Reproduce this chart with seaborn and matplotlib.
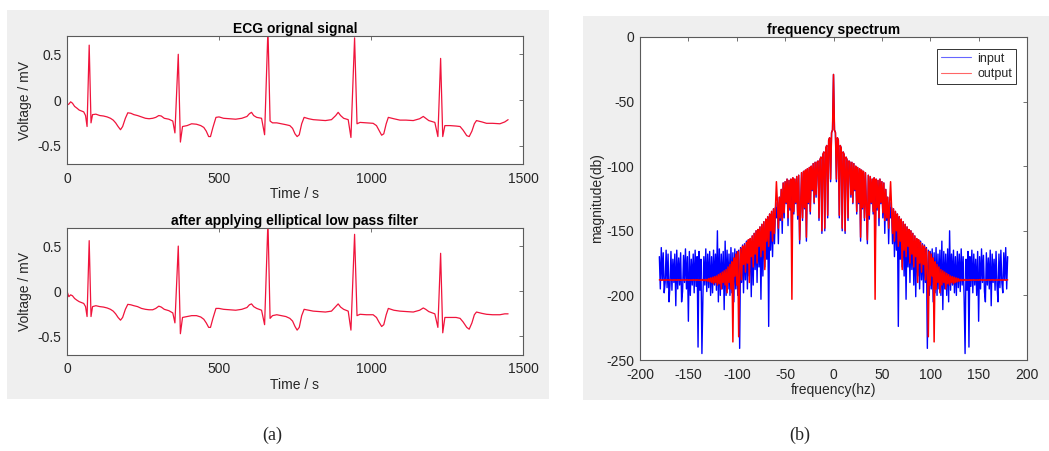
import numpy as np
import matplotlib
matplotlib.use("Agg")
import matplotlib.pyplot as plt
from matplotlib.patches import Rectangle
from matplotlib.lines import Line2D
import seaborn as sns

# ECG samples (time in s, voltage in mV), read beat by beat off the picture
tEcg = [0, 6, 12, 18, 25, 33, 40, 48, 55, 61, 66, 73, 79, 84,
        95, 108, 120, 132, 143, 152, 160, 168, 176, 183, 192, 200,
        210, 220, 232, 245, 258, 270, 282, 292, 302, 310, 320, 335, 348,
        355, 366, 373, 380, 395, 410, 426, 440, 450, 458, 466, 472, 480, 490,
        500, 515, 535, 555, 575, 592, 600, 607, 614, 624, 640,
        650, 661, 668, 676, 690, 705, 720, 733, 742, 750, 757, 764, 772, 780,
        795, 810, 830, 850, 870, 884, 892, 900, 910, 925,
        934, 946, 954, 964, 985, 1007, 1018, 1026, 1035, 1042, 1050, 1057,
        1075, 1095, 1115, 1139, 1160, 1172, 1180, 1190, 1210,
        1220, 1229, 1236, 1243, 1260, 1280, 1293, 1303, 1315, 1323, 1332, 1340, 1347,
        1365, 1380, 1400, 1424, 1440, 1451]

ecgOriginal = [-0.055, -0.045, -0.02, -0.035, -0.07, -0.09, -0.11, -0.12, -0.13, -0.17, -0.29, 0.60, -0.25, -0.16,
               -0.155, -0.17, -0.175, -0.185, -0.2, -0.22, -0.25, -0.29, -0.325, -0.29, -0.2, -0.14,
               -0.145, -0.16, -0.17, -0.185, -0.2, -0.205, -0.2, -0.19, -0.17, -0.175, -0.2, -0.21, -0.23,
               -0.36, 0.50, -0.46, -0.29, -0.28, -0.26, -0.265, -0.28, -0.30, -0.34, -0.40, -0.40, -0.30, -0.19,
               -0.185, -0.2, -0.205, -0.21, -0.2, -0.18, -0.15, -0.135, -0.17, -0.19, -0.2,
               -0.38, 0.78, -0.23, -0.25, -0.25, -0.26, -0.27, -0.28, -0.31, -0.37, -0.40, -0.38, -0.26, -0.19,
               -0.205, -0.215, -0.22, -0.225, -0.215, -0.17, -0.135, -0.17, -0.2, -0.215,
               -0.41, 0.68, -0.26, -0.245, -0.25, -0.255, -0.28, -0.33, -0.385, -0.37, -0.26, -0.19,
               -0.205, -0.22, -0.22, -0.225, -0.205, -0.18, -0.2, -0.225, -0.245,
               -0.40, 0.455, -0.40, -0.28, -0.28, -0.285, -0.29, -0.33, -0.39, -0.40, -0.34, -0.26, -0.225,
               -0.24, -0.255, -0.255, -0.26, -0.24, -0.215]

ecgFiltered = [0.0, -0.06, -0.04, -0.05, -0.08, -0.1, -0.115, -0.125, -0.135, -0.17, -0.28, 0.56, -0.28, -0.17,
               -0.16, -0.17, -0.175, -0.185, -0.2, -0.22, -0.25, -0.29, -0.32, -0.29, -0.2, -0.145,
               -0.15, -0.16, -0.17, -0.19, -0.2, -0.205, -0.205, -0.19, -0.165, -0.175, -0.2, -0.215, -0.24,
               -0.35, 0.50, -0.47, -0.29, -0.28, -0.27, -0.27, -0.285, -0.31, -0.35, -0.40, -0.40, -0.30, -0.19,
               -0.19, -0.2, -0.205, -0.21, -0.2, -0.18, -0.15, -0.14, -0.17, -0.19, -0.21,
               -0.37, 0.78, -0.30, -0.27, -0.26, -0.27, -0.28, -0.30, -0.33, -0.39, -0.43, -0.40, -0.27, -0.2,
               -0.21, -0.22, -0.225, -0.23, -0.22, -0.17, -0.14, -0.175, -0.2, -0.22,
               -0.43, 0.63, -0.27, -0.255, -0.26, -0.26, -0.29, -0.34, -0.39, -0.37, -0.26, -0.19,
               -0.21, -0.22, -0.225, -0.23, -0.21, -0.185, -0.2, -0.225, -0.25,
               -0.40, 0.42, -0.46, -0.29, -0.29, -0.29, -0.30, -0.34, -0.40, -0.42, -0.35, -0.26, -0.23,
               -0.245, -0.255, -0.26, -0.26, -0.25, -0.25]

# magnitude (db) for 0..180 hz, 1 hz apart; the spectrum is symmetric about 0
outputHalf = [-29, -72, -74, -110, -78, -80, -138, -84, -86, -148,
              -89, -91, -150, -93, -95, -140, -96, -97, -122, -97,
              -128, -98, -118, -100, -135, -101, -128, -102, -155, -103,
              -132, -104, -140, -105, -130, -157, -107, -138, -108, -128,
              -110, -135, -109, -203, -110, -132, -111, -140, -110, -128,
              -112, -136, -113, -142, -118, -140, -124, -148, -128, -112,
              -132, -152, -133, -158, -135, -150, -137, -162, -139, -158,
              -141, -180, -143, -165, -145, -170, -147, -162, -149, -175,
              -150, -168, -152, -178, -154, -170, -156, -190, -157, -175,
              -159, -182, -161, -176, -162, -188, -164, -180, -232, -166,
              -192, -168, -185, -171, -236, -174, -195, -176, -190, -178,
              -198, -180, -192, -181, -190, -182, -195, -183, -191, -184,
              -192, -185, -190, -185.5, -191, -186, -190, -186.5, -189.5, -187,
              -189, -187.6, -188.6, -187.8, -188.5, -187.7, -188.4, -187.9, -188.3, -188,
              -188.3, -187.8, -188.4, -187.9, -188.2, -187.8, -188.3, -188, -188.2, -187.9,
              -188.3, -187.8, -188.2, -187.9, -188.3, -187.8, -188.2, -188, -188.3, -187.9,
              -188.2, -187.8, -188.3, -187.9, -188.2, -187.8, -188.3, -188, -188.2, -187.9,
              -188.3, -187.8, -188.2, -187.9, -188.3, -187.8, -188.2, -188, -188.3, -187.9,
              -188]

inputHalf = [-29, -72, -74, -112, -78, -80, -140, -84, -86, -150,
             -89, -91, -152, -93, -95, -142, -96, -97, -124, -97,
             -129, -98, -119, -100, -137, -101, -129, -102, -158, -103,
             -133, -104, -142, -105, -131, -160, -107, -141, -108, -129,
             -110, -137, -109, -170, -110, -134, -111, -146, -110, -129,
             -112, -140, -113, -152, -118, -142, -124, -160, -128, -140,
             -132, -160, -133, -170, -135, -165, -137, -224, -139, -172,
             -141, -178, -143, -185, -145, -203, -147, -178, -149, -190,
             -150, -180, -152, -192, -154, -201, -156, -185, -157, -195,
             -158, -188, -160, -198, -161, -190, -163, -241, -165, -200,
             -166, -195, -164, -205, -167, -198, -163, -200, -168, -195,
             -165, -200, -158, -211, -166, -195, -168, -200, -164, -205,
             -150, -196, -168, -192, -165, -198, -170, -200, -166, -194,
             -168, -197, -164, -192, -170, -202, -245, -172, -196, -166,
             -240, -170, -193, -165, -198, -168, -192, -172, -200, -166,
             -220, -170, -195, -164, -190, -169, -197, -205, -167, -192,
             -171, -195, -165, -208, -168, -190, -172, -196, -166, -192,
             -205, -168, -194, -165, -190, -198, -167, -188, -163, -195,
             -170]

freq = np.arange(-180, 181)
outputDb = outputHalf[:0:-1] + outputHalf
inputDb = inputHalf[:0:-1] + inputHalf

sns.set_style("white")
plt.rcParams['font.family'] = ['Liberation Sans', 'DejaVu Sans']
plt.rcParams['axes.unicode_minus'] = False

W, H = 1049, 451
fig = plt.figure(figsize=(W/100, H/100), dpi=100)
fig.patch.set_facecolor('white')

def px_box(x0, y0, x1, y1):
    #pixel box (top-left origin) -> figure fraction rect
    return [x0/W, 1-y1/H, (x1-x0)/W, (y1-y0)/H]

#grey MATLAB figure backgrounds
for box in [px_box(7, 10, 549, 399), px_box(583, 16, 1049, 400)]:
    fig.patches.append(Rectangle((box[0], box[1]), box[2], box[3], transform=fig.transFigure,
                                 facecolor='#efefef', edgecolor='none', zorder=-5))

spineColor = '#5a5a5a'
textColor = '#262626'
ecgColor = '#f0143c'
inColor = '#0000ff'
outColor = '#ff0000'

def matlab_axes(ax):
    for sp in ax.spines.values():
        sp.set_color(spineColor)
        sp.set_linewidth(0.8)
    ax.tick_params(direction='in', top=True, right=True, length=3, width=0.6,
                   color=spineColor, labelcolor=textColor, labelsize=10, pad=4)
    ax.tick_params(axis='x', pad=5.5)
    ax.set_facecolor('white')

ecgAxes = [fig.add_axes(px_box(67, 36, 523, 164)), fig.add_axes(px_box(67, 228, 523, 354.5))]
ecgTitles = ['ECG orignal signal', 'after applying elliptical low pass filter']
for ax, vals, title in zip(ecgAxes, [ecgOriginal, ecgFiltered], ecgTitles):
    sns.lineplot(x=tEcg, y=vals, ax=ax, color=ecgColor, linewidth=0.9, estimator=None, errorbar=None)
    ax.set_xlim(0, 1500)
    ax.set_ylim(-0.7, 0.7)
    ax.set_xticks([0, 500, 1000, 1500])
    ax.set_yticks([-0.5, 0, 0.5])
    ax.set_yticklabels(['-0.5', '0', '0.5'])
    matlab_axes(ax)
    ax.set_title(title, fontsize=10, fontweight='bold', color='black', pad=2.5)
    ax.set_xlabel('Time / s', fontsize=10, color=textColor, labelpad=1)
    ax.set_ylabel('Voltage / mV', fontsize=10, color=textColor, labelpad=4)

ax = fig.add_axes(px_box(640, 37, 1027, 360))
sns.lineplot(x=freq, y=inputDb, ax=ax, color=inColor, linewidth=1.0, estimator=None, errorbar=None)
sns.lineplot(x=freq, y=outputDb, ax=ax, color=outColor, linewidth=1.1, estimator=None, errorbar=None)
ax.set_xlim(-200, 200)
ax.set_ylim(-250, 0)
ax.set_xticks(np.arange(-200, 201, 50))
ax.set_yticks(np.arange(-250, 1, 50))
matlab_axes(ax)
ax.set_title('frequency spectrum', fontsize=10, fontweight='bold', color='black', pad=2.5)
ax.set_xlabel('frequency(hz)', fontsize=10, color=textColor, labelpad=1)
ax.set_ylabel('magnitude(db)', fontsize=10, color=textColor, labelpad=1.5)
handles = [Line2D([], [], color=inColor, lw=0.8, alpha=0.6), Line2D([], [], color=outColor, lw=0.8, alpha=0.6)]
leg = ax.legend(handles, ['input', 'output'], loc='upper right', bbox_to_anchor=(1-11/387, 1-12/323),
                borderaxespad=0, fontsize=9, frameon=True, fancybox=False, edgecolor='#333333',
                framealpha=1, handlelength=2.4, handletextpad=0.5, labelspacing=0.25, borderpad=0.3)
leg.get_frame().set_linewidth(0.7)

fig.text(272/W, 1-435/H, '(a)', ha='center', va='center', family='Liberation Serif', fontsize=13)
fig.text(800/W, 1-435/H, '(b)', ha='center', va='center', family='Liberation Serif', fontsize=13)

plt.savefig('out.png', dpi=100, facecolor='white')
